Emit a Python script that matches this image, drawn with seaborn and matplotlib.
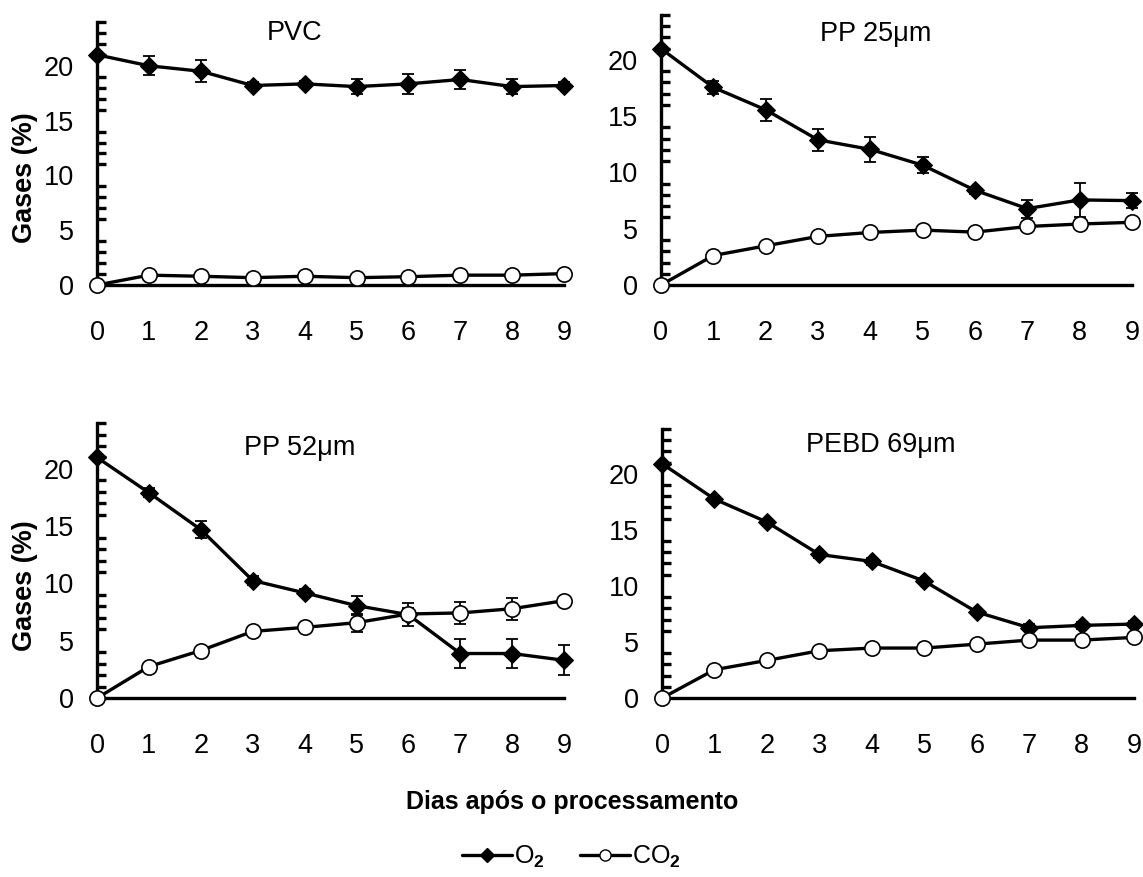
import numpy as np
import pandas as pd
import matplotlib
matplotlib.use("Agg")
import matplotlib.pyplot as plt
from matplotlib.lines import Line2D
from matplotlib.ticker import MultipleLocator
import seaborn as sns

sns.set_theme(style="white")
plt.rcParams['font.family'] = ['Liberation Sans', 'DejaVu Sans']
plt.rcParams['mathtext.fontset'] = 'custom'
plt.rcParams['mathtext.rm'] = 'Liberation Sans'
plt.rcParams['mathtext.bf'] = 'Liberation Sans:bold'
for k in ['text.color', 'axes.labelcolor', 'xtick.color', 'ytick.color']:
    plt.rcParams[k] = 'black'

days = [0, 1, 2, 3, 4, 5, 6, 7, 8, 9]
panels = ["PVC", "PP 25\u03bcm", "PP 52\u03bcm", "PEBD 69\u03bcm"]

o2_pvc = [21.0, 20.0, 19.5, 18.2, 18.35, 18.1, 18.35, 18.75, 18.1, 18.2]
o2_pvc_err = [0.0, 0.85, 1.0, 0.3, 0.3, 0.7, 0.9, 0.85, 0.7, 0.3]
co2_pvc = [0.0, 0.9, 0.8, 0.67, 0.8, 0.67, 0.76, 0.9, 0.9, 1.04]
co2_pvc_err = [0, 0, 0, 0, 0, 0, 0, 0, 0, 0]

o2_pp25 = [21.0, 17.56, 15.57, 12.9, 12.05, 10.65, 8.42, 6.79, 7.56, 7.5]
o2_pp25_err = [0.0, 0.6, 1.0, 0.97, 1.13, 0.73, 0.3, 0.8, 1.5, 0.65]
co2_pp25 = [0.0, 2.62, 3.48, 4.32, 4.67, 4.88, 4.7, 5.2, 5.42, 5.57]
co2_pp25_err = [0, 0, 0, 0, 0, 0, 0, 0, 0, 0]

o2_pp52 = [21.0, 17.92, 14.7, 10.26, 9.18, 8.07, 7.28, 3.89, 3.89, 3.3]
o2_pp52_err = [0.0, 0.4, 0.76, 0.4, 0.3, 0.85, 1.0, 1.3, 1.25, 1.3]
co2_pp52 = [0.0, 2.75, 4.15, 5.82, 6.17, 6.58, 7.34, 7.43, 7.8, 8.5]
co2_pp52_err = [0, 0, 0, 0, 0, 0.8, 0.5, 0.95, 0.95, 0.2]

o2_pebd = [20.9, 17.74, 15.69, 12.8, 12.18, 10.43, 7.67, 6.27, 6.48, 6.6]
o2_pebd_err = [0.0, 0.3, 0.3, 0.3, 0.3, 0.3, 0.3, 0.3, 0.3, 0.3]
co2_pebd = [0.0, 2.53, 3.36, 4.22, 4.46, 4.46, 4.81, 5.17, 5.17, 5.41]
co2_pebd_err = [0, 0, 0, 0, 0, 0, 0, 0, 0, 0]

series = [
    (o2_pvc, o2_pvc_err, co2_pvc, co2_pvc_err),
    (o2_pp25, o2_pp25_err, co2_pp25, co2_pp25_err),
    (o2_pp52, o2_pp52_err, co2_pp52, co2_pp52_err),
    (o2_pebd, o2_pebd_err, co2_pebd, co2_pebd_err),
]

positions = [
    [0.0849, 0.675, 0.4086, 0.300],
    [0.5783, 0.675, 0.4120, 0.308],
    [0.0849, 0.204, 0.4086, 0.3136],
    [0.5792, 0.204, 0.4130, 0.307],
]
title_x = [3.8, 4.1, 3.9, 4.17]
title_y = [23.0, 22.3, 21.8, 22.6]

fig = plt.figure(figsize=(11.43, 8.77), dpi=100)

LW = 2.4
for i, (name, (o2, o2e, co2, co2e)) in enumerate(zip(panels, series)):
    ax = fig.add_axes(positions[i])
    df = pd.DataFrame({
        "day": days * 2,
        "val": o2 + co2,
        "gas": ["O2"] * len(days) + ["CO2"] * len(days),
    })
    ax.errorbar(days, o2, yerr=o2e, fmt='none', ecolor='black',
                elinewidth=1.3, capsize=4.5, capthick=1.3, zorder=2, clip_on=False)
    ax.errorbar(days, co2, yerr=co2e, fmt='none', ecolor='black',
                elinewidth=1.3, capsize=4.5, capthick=1.3, zorder=2, clip_on=False)
    sns.lineplot(data=df[df.gas == "O2"], x="day", y="val", ax=ax,
                 color='black', lw=LW, marker='D', markersize=9,
                 markerfacecolor='black', markeredgecolor='black',
                 clip_on=False, zorder=3, legend=False)
    sns.lineplot(data=df[df.gas == "CO2"], x="day", y="val", ax=ax,
                 color='black', lw=LW, marker='o', markersize=11,
                 markerfacecolor='white', markeredgecolor='black',
                 markeredgewidth=1.2, clip_on=False, zorder=4, legend=False)
    ax.set_xlim(0, 9)
    ax.set_ylim(0, 24)
    ax.set_xticks(days)
    ax.set_yticks([0, 5, 10, 15, 20])
    ax.yaxis.set_minor_locator(MultipleLocator(1))
    for s in ['top', 'right']:
        ax.spines[s].set_visible(False)
    for s in ['left', 'bottom']:
        ax.spines[s].set_linewidth(LW)
        ax.spines[s].set_color('black')
    ax.tick_params(axis='x', which='major', direction='out', length=7,
                   width=LW, labelsize=19.5, pad=18, colors='black')
    ax.tick_params(axis='y', which='major', direction='inout', length=13,
                   width=LW, labelsize=19.5, pad=10, colors='black')
    ax.tick_params(axis='y', which='minor', direction='in', length=6.5,
                   width=LW, left=True, colors='black')
    ax.set_xlabel("")
    if i % 2 == 0:
        ax.set_ylabel("Gases (%)", fontsize=19.5, fontweight='bold', va='center')
        ax.yaxis.set_label_coords(-0.154, 0.41)
    else:
        ax.set_ylabel("")
    ax.text(title_x[i], title_y[i], name, ha='center', va='center', fontsize=19.5)

fig.text(0.501, 0.0855, "Dias após o processamento", ha='center', va='center',
         fontsize=18, fontweight='bold')

handles = [
    Line2D([0], [0], color='black', lw=LW, marker='D', markersize=7,
           markerfacecolor='black'),
    Line2D([0], [0], color='black', lw=LW, marker='o', markersize=8,
           markerfacecolor='white', markeredgewidth=1.0),
]
fig.legend(handles, [r"O$_\mathbf{2}$", r"CO$_\mathbf{2}$"], loc='center',
           bbox_to_anchor=(0.5, 0.023), ncol=2, frameon=False, fontsize=18,
           handlelength=2.0, handletextpad=0.1, columnspacing=1.4)

fig.savefig("out.png", dpi=100)
